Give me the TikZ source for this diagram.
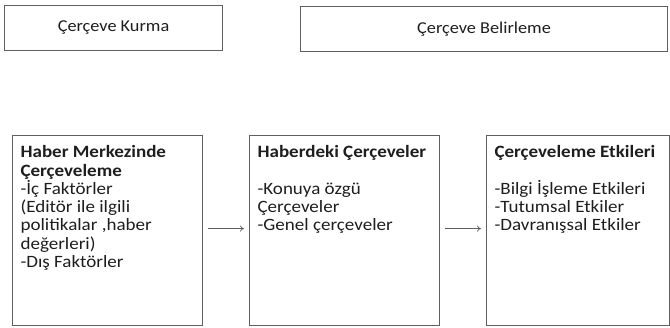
\documentclass[tikz,border=0pt]{standalone}
\usepackage{fontspec}
\setmainfont{Carlito}[FakeStretch=1.1]
\usetikzlibrary{arrows.meta}
\definecolor{kenar}{RGB}{95,95,95}
\definecolor{yazi}{RGB}{30,30,30}
\tikzset{
    baslik/.style={draw=kenar, line width=1.2pt, text=yazi, minimum height=45pt, font=\fontsize{16.6}{20}\selectfont},
    kutu/.style={draw=kenar, line width=1.2pt, text=yazi, anchor=north west, inner sep=0pt, font=\fontsize{17.3}{18.3}\selectfont},
    ok/.style={draw=kenar, line width=0.7pt, -{To[length=4pt,width=6pt]}, shorten <=5pt, shorten >=5pt},
  }
\newcommand{\kutuyazi}[2][190pt]{\parbox[t][190pt][t]{#1}{\vspace{10pt}\raggedright\leftskip=8pt #2}}

\begin{document}
\begin{tikzpicture}[x=1pt,y=-1pt]
				  \useasboundingbox (0,0) rectangle (670,327);
				  %ust basliklar
				  \node[baslik, minimum width=218pt] (Kurma) at (113.5,28) {Çerçeve Kurma};
				  \node[baslik, minimum width=367pt] (Belirleme) at (484,29) {Çerçeve Belirleme};
				  %alt kutular
				  \node[kutu] (Merkez) at (12,135) {\kutuyazi{\textbf{Haber Merkezinde}\\\textbf{Çerçeveleme}\\-İç Faktörler\\(Editör ile ilgili\\politikalar ,haber\\değerleri)\\-Dış Faktörler}};
				  \node[kutu] (Haber) at (249,135) {\kutuyazi{\textbf{Haberdeki Çerçeveler}\\[18.3pt]-Konuya özgü\\Çerçeveler\\-Genel çerçeveler}};
				  \node[kutu] (Etki) at (486,135) {\kutuyazi[183pt]{\textbf{Çerçeveleme Etkileri}\\[18.3pt]-Bilgi İşleme Etkileri\\-Tutumsal Etkiler\\-Davranışsal Etkiler}};
				  \draw[ok] ([yshift=2pt]Merkez.east) -- ([yshift=2pt]Haber.west);
				  \draw[ok] ([yshift=2pt]Haber.east) -- ([yshift=2pt]Etki.west);
				  \end{tikzpicture}
\end{document}
